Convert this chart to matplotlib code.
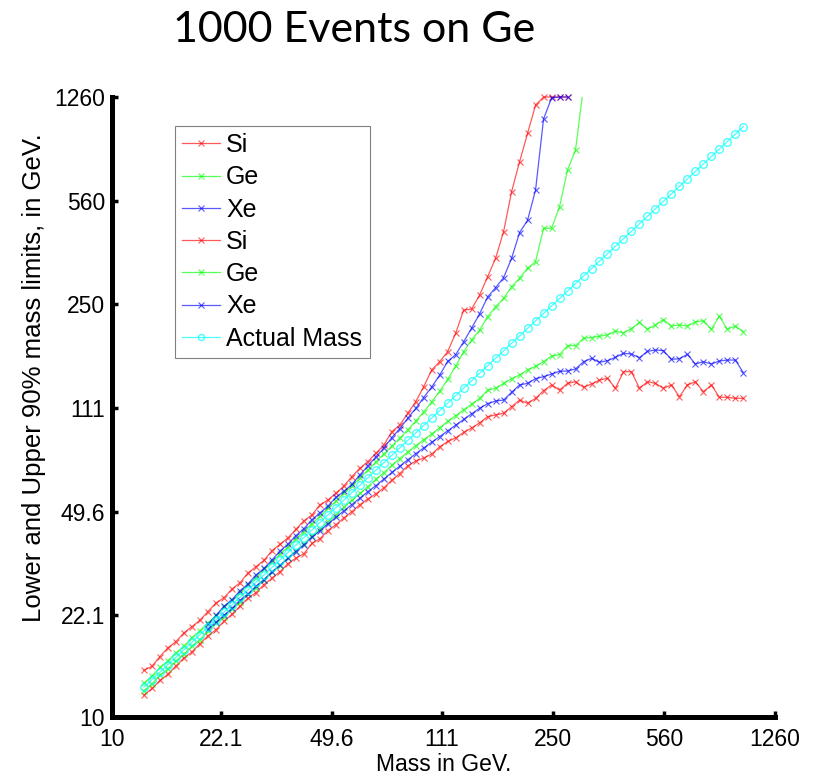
import matplotlib
matplotlib.use('Agg')
import matplotlib.pyplot as plt

plt.rcParams['font.family'] = ['Liberation Sans', 'DejaVu Sans']

# Candidate WIMP masses (GeV)
mass = [12.62, 13.38, 14.19, 15.04, 15.94, 16.90, 17.92, 18.99, 20.13,
        21.34, 22.62, 23.98, 25.42, 26.95, 28.57, 30.28, 32.10, 34.03, 36.07, 38.24, 40.53,
        42.97, 45.55, 48.28, 51.18, 54.26, 57.51, 60.97, 64.63, 68.51, 72.62, 76.98, 81.60,
        86.50, 91.69, 97.13,
        102.96, 109.14, 115.70, 122.64, 130.00, 137.80, 146.08, 154.85, 164.14, 174.00,
        184.44, 195.52, 207.25, 219.70,
        232.88, 246.87, 261.69, 277.40, 294.05, 311.70, 330.42, 350.25, 371.28, 393.57,
        417.19, 442.24, 468.79, 496.93, 526.77, 558.39, 591.91, 627.45, 665.11, 705.04,
        747.37, 792.24, 839.80, 890.22, 943.66, 1000.0]

# Upper 90% limits
si_hi = [14.39, 14.85, 16.03, 17.15, 18.01, 19.27, 20.25, 21.27, 22.75,
         24.33, 25.33, 27.10, 28.47, 30.72, 32.28, 33.91, 36.59, 38.45, 40.40, 43.21, 46.20,
         48.3, 52.3, 54.3, 57.3, 60.6, 65.2, 69.6, 73.3, 78.2, 83.4, 92.6, 97.5, 106.9, 117.0, 131.5,
         149.8, 159.8, 172.8, 199.4, 239.1, 241.0, 268.8, 310.0, 358.0, 440.6, 601.9, 760.5, 949.0, 1183.0,
         1260, 1260, 1260, 1260]
ge_hi = [13.03, 13.75, 14.72, 15.50, 16.50, 17.37, 18.59, 19.61, 20.84,
         21.99, 23.52, 24.82, 26.37, 28.09, 29.64, 31.63, 33.46, 35.63, 37.68, 40.13, 42.44,
         45.20, 47.80, 50.91, 53.84, 57.34, 60.50, 64.59, 68.62, 73.07, 77.81, 82.68, 88.04, 93.97,
         100.54, 107.98,
         116.86, 126.76, 139.11, 154.39, 172.8, 189.3, 204.6, 227.0, 245.4, 262.0, 286.9, 306.3,
         331.1, 348.6,
         452.3, 452.3, 535.5, 712.9, 833.1, 1370]
xe_hi = [20.60,
         22.09, 23.69, 24.99, 26.74, 28.22, 30.26, 31.85, 34.00, 36.46, 38.47, 41.17, 43.43,
         46.57, 49.14, 51.73, 55.47, 58.14, 61.34, 66.09, 70.87, 75.99, 81.48, 88.39, 94.77,
         102.81, 111.00, 120.88,
         131.12, 143.88, 160.1, 168.8, 186.6, 207.7, 232.2, 264.7, 284.8, 307.9, 357.7, 437.5,
         481.6, 609.8,
         1061, 1250, 1260, 1260]

# Lower 90% limits
si_lo = [11.86, 12.49, 13.30, 13.97, 14.88, 15.85, 16.61, 17.72, 18.83,
         19.73, 21.11, 22.28, 23.72, 25.27, 26.36, 28.06, 29.54, 31.04, 33.05, 34.55, 35.71,
         38.74, 40.13, 42.83, 44.78, 47.26, 49.63, 52.37, 54.75, 56.99, 59.71, 63.44, 66.79,
         70.96, 73.67, 75.39,
         77.75, 82.23, 85.77, 88.23, 92.03, 95.33, 99.22, 104.1, 105.5, 106.9, 112.5, 118.5,
         115.5, 120.1,
         127.5, 133.3, 128.2, 135.0, 136.7, 130.9, 134.3, 138.5, 140.4, 129.9, 147.8, 147.8,
         129.9, 136.7, 135.0, 129.9, 133.3, 121.6, 133.3, 136.7, 126.5, 133.3, 121.1, 121.1,
         120.1, 120.1]
ge_lo = [12.28, 12.93, 13.87, 14.56, 15.50, 16.33, 17.39, 18.30, 19.49,
         20.76, 21.80, 23.22, 24.44, 26.04, 27.41, 29.18, 31.01, 32.57, 34.61, 36.52, 38.53,
         41.04, 43.20, 45.90, 48.32, 51.34, 54.17, 57.17, 60.32, 63.79, 67.30, 71.18, 75.11,
         79.07, 83.04, 86.97,
         90.92, 95.50, 100.31, 104.87, 109.89, 114.62, 120, 128, 130, 135, 140, 144, 150, 154,
         160, 167, 169, 181, 181, 192, 193, 195, 197, 203, 200, 207, 217, 206, 213, 222, 211,
         213, 211, 218, 220, 206, 228, 206, 211, 202]
xe_lo = [19.85,
         20.95, 22.10, 23.33, 24.84, 26.10, 27.73, 29.18, 31.01, 32.65, 34.45, 36.35, 38.26,
         40.66, 42.71, 45.06, 47.43, 49.94, 52.45, 55.09, 58.00, 60.78, 63.98, 67.36, 70.75,
         74.30, 78.04, 81.54,
         85.24, 89.12, 93.18, 97.41, 101.84, 106.48, 111.1, 115.2, 117.6, 118.5, 125.9, 133.3,
         135.0, 140.0,
         142.2, 145.2, 148.3, 148.6, 151.0, 159.8, 164.1, 159.1, 161.1, 165.4, 170.6, 169.7,
         164.9, 173.3, 175.1, 174.2, 162.8, 163.6, 169.3, 157.0, 159.8, 157.0, 160.7, 161.9,
         161.9, 146.7]

xe_start = 8  # Xe limits begin at the 9th mass point

tick_vals = [10, 22.1, 49.6, 111, 250, 560, 1260]
tick_text = ['10', '22.1', '49.6', '111', '250', '560', '1260']

fig = plt.figure(figsize=(8.19, 7.78), dpi=100)
ax = fig.add_axes([112 / 819, 61 / 778, 663 / 819, 620 / 778])

kw = dict(marker='x', markersize=5, markeredgewidth=0.8, linewidth=0.9, alpha=0.65)
ax.plot(mass[:len(si_hi)], si_hi, color='r', label='Si', clip_on=False, **kw)
ax.plot(mass[:len(ge_hi)], ge_hi, color='#00ff00', label='Ge', **kw)
ax.plot(mass[xe_start:xe_start + len(xe_hi)], xe_hi, color='b', label='Xe', clip_on=False, **kw)
ax.plot(mass[:len(si_lo)], si_lo, color='r', label='Si', **kw)
ax.plot(mass[:len(ge_lo)], ge_lo, color='#00ff00', label='Ge', **kw)
ax.plot(mass[xe_start:xe_start + len(xe_lo)], xe_lo, color='b', label='Xe', **kw)
ax.plot(mass, mass, color='#00ffff', marker='o', markersize=5.5, markerfacecolor='none',
        markeredgewidth=1.0, linewidth=0.9, alpha=0.7, label='Actual Mass')

ax.set_xscale('log')
ax.set_yscale('log')
ax.set_xlim(10, 1260)
ax.set_ylim(10, 1260)
ax.set_xticks(tick_vals)
ax.set_xticklabels(tick_text)
ax.set_yticks(tick_vals)
ax.set_yticklabels(tick_text)
ax.minorticks_off()
ax.tick_params(direction='in', length=4, width=2.5, labelsize=16.5)
ax.tick_params(axis='x', pad=8)
ax.tick_params(axis='y', pad=5)

for side in ['top', 'right']:
    ax.spines[side].set_visible(False)
for side in ['left', 'bottom']:
    ax.spines[side].set_linewidth(3.6)

ax.set_xlabel('Mass in GeV.', fontsize=16.5)
ax.xaxis.set_label_coords(0.5, -0.058)
ax.set_ylabel('Lower and Upper 90% mass limits, in GeV.', fontsize=18.5)
ax.yaxis.set_label_coords(-0.1, 0.547)

leg = ax.legend(loc='upper left', bbox_to_anchor=(0.095, 0.954), borderaxespad=0,
                fontsize=18, fancybox=False, framealpha=1, edgecolor='#808080',
                handlelength=1.5, handletextpad=0.25, labelspacing=0.33, borderpad=0.3,
                markerscale=0.8)
leg.get_frame().set_linewidth(0.8)

fig.text(354 / 819, 1 - 30 / 778, '1000 Events on Ge', ha='center', va='center',
         fontsize=31, family=['Lato', 'DejaVu Sans'])

fig.savefig('out.png', dpi=100)
